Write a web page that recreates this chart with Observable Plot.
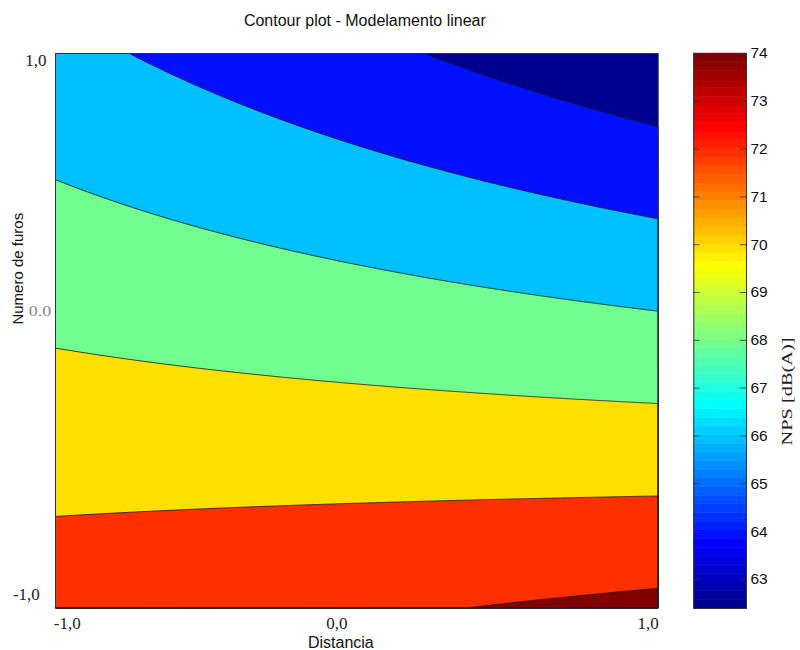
<!DOCTYPE html>
<html><head><meta charset="utf-8">
<script src="https://cdn.jsdelivr.net/npm/d3@7"></script>
<script src="https://cdn.jsdelivr.net/npm/@observablehq/plot@0.6"></script>
<style>
body{margin:0;background:#fff}
#wrap{position:relative;width:800px;height:650px;overflow:hidden;background:#fff}
#main{position:absolute;left:0;top:0}
#cbar{position:absolute;left:688px;top:0}
</style></head><body><div id="wrap"><div id="main"></div><div id="cbar"></div></div>
<script>
// ---- data (corner values of the fitted surface) ----
const distancia = [-1, 1, -1, 1];
const furos = [-1, -1, 1, 1];
const nps = [73.09, 74.43, 66.50, 62.42];
const levels = [64, 66, 68, 70, 72, 74];
const colorbarMin = 62.39, colorbarMax = 74;
const colorbarTicks = [63, 64, 65, 66, 67, 68, 69, 70, 71, 72, 73, 74];
const xTickValues = [-1, 0, 1];
const xTickLabels = ["-1,0", "0,0", "1,0"];
const yTickValues = [-1, 0, 1];
const yTickLabels = ["-1,0", "0.0", "1,0"];
const titleText = "Contour plot - Modelamento linear";
const xLabel = "Distancia", yLabel = "Numero de furos", cLabel = "NPS [dB(A)]";

const samples = distancia.map((x, i) => ({x, y: furos[i], v: nps[i]}));

// MATLAB jet(64) colormap
function jet(t) {
  const m = 64;
  let i = Math.floor(t * m) + 1;
  i = Math.max(1, Math.min(m, i));
  const u = k => (k < 1 || k > 47) ? 0 : k <= 16 ? k / 16 : k <= 31 ? 1 : (48 - k) / 16;
  const r = u(i - 24), g = u(i - 8), b = u(i + 8);
  return `rgb(${Math.round(r * 255)},${Math.round(g * 255)},${Math.round(b * 255)})`;
}
const colorScale = {type: "linear", domain: [colorbarMin, colorbarMax], interpolate: jet, clamp: true};

// bilinear interpolation of the sampled grid onto the raster
function bilinear(index, width, height, X, Y, V) {
  const idx = Array.from(index);
  const xs = [...new Set(idx.map(i => X[i]))].sort((a, b) => a - b);
  const ys = [...new Set(idx.map(i => Y[i]))].sort((a, b) => a - b);
  const val = new Map(idx.map(i => [X[i] + "|" + Y[i], V[i]]));
  const get = (x, y) => val.get(x + "|" + y);
  const seg = (arr, p) => {
    let k = 0;
    while (k < arr.length - 2 && p > arr[k + 1]) k++;
    return [k, (p - arr[k]) / (arr[k + 1] - arr[k])];
  };
  const out = new Float64Array(width * height);
  for (let r = 0; r < height; r++) {
    const [j, ty] = seg(ys, r + 0.5);
    for (let c = 0; c < width; c++) {
      const [i, tx] = seg(xs, c + 0.5);
      const v00 = get(xs[i], ys[j]), v10 = get(xs[i + 1], ys[j]);
      const v01 = get(xs[i], ys[j + 1]), v11 = get(xs[i + 1], ys[j + 1]);
      out[r * width + c] = (1 - ty) * ((1 - tx) * v00 + tx * v10) + ty * ((1 - tx) * v01 + tx * v11);
    }
  }
  return out;
}

const serif = "Liberation Serif, Times New Roman, serif";
const sans = "Liberation Sans, Arial, sans-serif";

function xTick(k, anchor, dx) {
  return Plot.text([xTickLabels[k]], {x: xTickValues[k], y: -1, text: d => d, textAnchor: anchor, dx, dy: 15,
    lineAnchor: "middle", fontFamily: serif, fontSize: 17, fill: "#222"});
}
function yTick(k, dx, dy, size, color) {
  return Plot.text([yTickLabels[k]], {x: -1, y: yTickValues[k], text: d => d, textAnchor: "end", dx, dy,
    lineAnchor: "middle", fontFamily: serif, fontSize: size, fill: color});
}

const main = Plot.plot({
  width: 688, height: 650,
  marginLeft: 55, marginRight: 30.3, marginTop: 53, marginBottom: 42.3,
  x: {domain: [-1, 1], axis: null},
  y: {domain: [-1, 1], axis: null},
  color: colorScale,
  style: {background: "white", fontFamily: sans},
  marks: [
    Plot.contour(samples, {x: "x", y: "y", fill: "v", thresholds: [colorbarMin, ...levels],
      interpolate: bilinear, pixelSize: 1}),
    Plot.contour(samples, {x: "x", y: "y", value: "v", thresholds: levels,
      interpolate: bilinear, pixelSize: 1, fill: "none", stroke: "#111", strokeWidth: 0.8}),
    Plot.frame({stroke: "#333", strokeWidth: 1}),
    xTick(0, "start", -1.7),
    xTick(1, "middle", -20),
    xTick(2, "end", 0.5),
    yTick(2, -9, 7, 17, "#222"),
    yTick(1, -4.3, -19.4, 14, "#888"),
    yTick(0, -15.7, -13.7, 17, "#222"),
    Plot.text([titleText], {frameAnchor: "top", lineAnchor: "middle", text: d => d, dx: 8, dy: -32.5, fontSize: 16, fontFamily: sans, fill: "#111"}),
    Plot.text([xLabel], {frameAnchor: "bottom", lineAnchor: "middle", text: d => d, dx: -16, dy: 35, fontSize: 16, fontFamily: sans, fill: "#111"}),
    Plot.text([yLabel], {frameAnchor: "left", lineAnchor: "middle", text: d => d, rotate: -90, dx: -37.5, dy: -6.3, fontSize: 15, fontFamily: sans, fill: "#111"})
  ]
});
d3.select(main).selectAll("text").filter(function () { return this.textContent === "0.0"; })
  .attr("textLength", 22.4).attr("lengthAdjust", "spacingAndGlyphs");
document.getElementById("main").appendChild(main);

const step = (colorbarMax - colorbarMin) / 64;
const cb = Plot.plot({
  width: 112, height: 650,
  marginLeft: 5.3, marginRight: 54, marginTop: 53, marginBottom: 42,
  x: {domain: [0, 1], axis: null},
  y: {domain: [colorbarMin, colorbarMax], axis: null},
  color: colorScale,
  style: {background: "white", fontFamily: sans},
  marks: [
    Plot.rect(d3.range(64), {x1: 0, x2: 1, y1: i => colorbarMin + i * step, y2: i => colorbarMin + (i + 1) * step,
      fill: i => colorbarMin + (i + 0.5) * step, stroke: i => colorbarMin + (i + 0.5) * step, strokeWidth: 0.5}),
    Plot.frame({stroke: "#333", strokeWidth: 1}),
    Plot.ruleY(colorbarTicks, {y: d => d, x1: 0, x2: 0.12, stroke: "#333", strokeWidth: 0.8}),
    Plot.ruleY(colorbarTicks, {y: d => d, x1: 0.88, x2: 1, stroke: "#333", strokeWidth: 0.8}),
    Plot.text(colorbarTicks, {x: 1, y: d => d, text: d => String(d), textAnchor: "start", dx: 4, fontSize: 15.5, fontFamily: sans, fill: "#111"}),
    Plot.text([cLabel], {frameAnchor: "right", text: d => d, rotate: -90, dx: 41, dy: 6.5, fontSize: 15, fontFamily: serif, fill: "#222"})
  ]
});
d3.select(cb).selectAll("text").filter(function () { return this.textContent === "NPS [dB(A)]"; })
  .attr("textLength", 108).attr("lengthAdjust", "spacingAndGlyphs");
document.getElementById("cbar").appendChild(cb);
</script>
</body></html>
